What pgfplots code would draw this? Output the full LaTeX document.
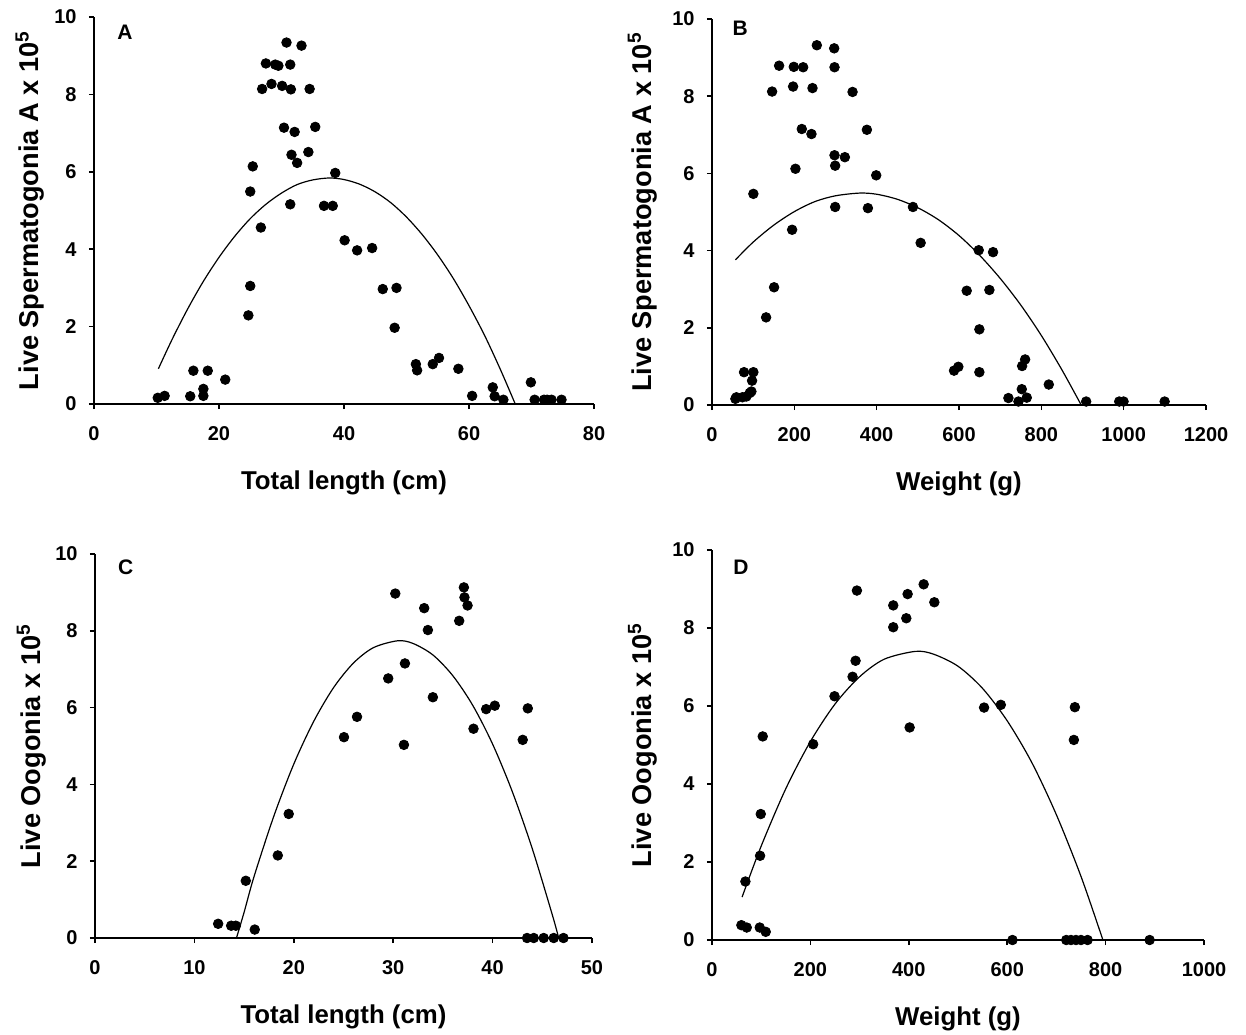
\documentclass[border=0pt]{standalone}
\usepackage{fontspec}
\setmainfont{Liberation Sans}
\usepackage{pgfplots}
\pgfplotsset{compat=1.18}

\pgfplotsset{
  panel/.style={
    scale only axis,
    axis x line*=bottom, axis y line*=left,
    axis line style={line width=0.75pt, -},
    tick align=outside,
    major tick length=2.6pt,
    tick style={line width=0.75pt, black},
    ymin=0, ymax=10, ytick={0,2,...,10},
    clip=false,
    /pgf/number format/assume math mode=true,
    /pgf/number format/1000 sep={},
    ticklabel style={font=\fontsize{10}{12}\selectfont\bfseries},
    xticklabel style={anchor=north, inner sep=0pt, yshift=-8.4pt},
    yticklabel style={anchor=east, inner sep=0pt, xshift=-5.9pt},
    xlabel style={font=\fontsize{12.9}{15}\selectfont\bfseries, at={(axis description cs:0.5,0)}, anchor=base, yshift=-42.5pt},
    ylabel style={font=\fontsize{13.6}{16}\selectfont\bfseries},
  },
  dots/.style={only marks, mark=*, mark size=2.4pt, mark options={fill=black, draw=black}},
  fit/.style={no marks, smooth, black, line width=0.6pt},
}
\newcommand{\panellabel}[3]{\node[font=\fontsize{10.5}{12}\selectfont\bfseries] at (rel axis cs:#1,#2) {#3};}

\begin{document}
\begin{tikzpicture}
\useasboundingbox (0,0) rectangle (623pt,517pt);

% ---------------- Panel A ----------------
\begin{axis}[panel, at={(47pt,315pt)}, anchor=south west, width=250pt, height=193.5pt,
  xmin=0, xmax=80, xtick={0,20,...,80},
  xlabel={Total length (cm)},
  ylabel={Live Spermatogonia A x 10\textsuperscript{5}},
  ylabel style={at={(axis description cs:-0.11,0.5)}, anchor=base, rotate=0}]
\addplot[dots] coordinates {
(10.2,0.16)(11.3,0.21)(15.4,0.20)(15.9,0.86)(17.5,0.39)(17.5,0.21)(18.2,0.86)(21.0,0.63)
(24.7,2.29)(25.0,3.05)(25.0,5.49)(25.4,6.14)(26.7,4.56)(26.9,8.14)(27.5,8.80)(28.4,8.27)
(29.0,8.77)(29.5,8.74)(30.1,8.22)(30.4,7.14)(30.8,9.34)(31.4,8.77)(31.4,5.16)(31.5,8.13)
(31.6,6.44)(32.1,7.03)(32.5,6.23)(33.2,9.26)(34.3,6.51)(34.5,8.14)(35.4,7.16)(36.8,5.12)
(38.2,5.12)(38.6,5.97)(40.1,4.23)(42.1,3.97)(44.5,4.03)(46.2,2.97)(48.4,3.00)(48.1,1.97)
(51.5,1.03)(51.7,0.87)(54.2,1.03)(55.2,1.19)(58.3,0.91)(60.5,0.21)(63.8,0.43)(64.1,0.20)
(65.5,0.11)(69.9,0.56)(70.5,0.11)(72.0,0.11)(72.5,0.11)(73.2,0.11)(74.8,0.11)
};
\addplot[fit] coordinates {
(10.3,0.91)(12.5,1.67)(15,2.46)(17.5,3.17)(20,3.79)(22.5,4.33)(25,4.79)(27.5,5.16)(30,5.45)
(32.5,5.67)(35,5.79)(37.64,5.84)(40,5.80)(42.5,5.68)(45,5.48)(47.5,5.20)(50,4.83)(52.5,4.38)
(55,3.85)(57.5,3.24)(60,2.54)(62.5,1.77)(65,0.90)(67.4,0)
};
\panellabel{0.062}{0.961}{A}
\end{axis}

% ---------------- Panel B ----------------
\begin{axis}[panel, at={(356pt,314.5pt)}, anchor=south west, width=247pt, height=193pt,
  xmin=0, xmax=1200, xtick={0,200,...,1200},
  xlabel={Weight (g)},
  ylabel={Live Spermatogonia A x 10\textsuperscript{5}},
  ylabel style={at={(axis description cs:-0.123,0.5)}, anchor=base, rotate=0}]
\addplot[dots] coordinates {
(56.8,0.16)(59.4,0.20)(73.8,0.20)(77.8,0.85)(83.5,0.22)(91.6,0.31)(95.7,0.35)(97.3,0.63)
(100.5,0.85)(100.5,5.47)(131.4,2.27)(146.0,8.12)(150.8,3.05)(163.0,8.79)(194.6,4.54)(197.0,8.25)
(198.7,8.76)(202.7,6.12)(218.1,7.15)(221.4,8.75)(241.6,7.02)(244.1,8.21)(254.6,9.32)(296.8,9.24)
(297.6,8.75)(297.6,6.47)(299.2,6.20)(299.2,5.13)(322.7,6.42)(341.4,8.11)(376.2,7.13)(378.7,5.10)
(398.9,5.95)(488.1,5.13)(506.8,4.20)(587.9,0.89)(598.4,0.99)(618.7,2.96)(647.9,4.01)(649.5,1.96)
(649.5,0.85)(673.8,2.98)(682.7,3.96)(720.0,0.18)(744.4,0.09)(752.5,0.41)(753.3,1.01)(760.6,1.18)
(764.6,0.19)(818.1,0.53)(908.9,0.09)(989.2,0.09)(999.7,0.09)(1099.5,0.09)
};
\addplot[fit] coordinates {
(56.8,3.76)(100,4.22)(150,4.66)(200,5.01)(250,5.27)(300,5.42)(358.8,5.49)(400,5.46)(450,5.33)
(500,5.11)(550,4.80)(600,4.39)(650,3.88)(700,3.28)(750,2.59)(800,1.80)(850,0.91)(896.8,0)
};
\panellabel{0.057}{0.977}{B}
\end{axis}

% ---------------- Panel C ----------------
\begin{axis}[panel, at={(47.5pt,48pt)}, anchor=south west, width=248.5pt, height=192pt,
  xmin=0, xmax=50, xtick={0,10,...,50},
  xlabel={Total length (cm)},
  ylabel={Live Oogonia x 10\textsuperscript{5}},
  ylabel style={at={(axis description cs:-0.11,0.5)}, anchor=base, rotate=0}]
\addplot[dots] coordinates {
(12.39,0.37)(13.70,0.32)(14.17,0.32)(15.17,1.49)(16.07,0.22)(18.39,2.15)(19.49,3.23)(25.05,5.23)
(26.36,5.76)(29.50,6.76)(30.21,8.97)(31.08,5.03)(31.18,7.15)(33.12,8.59)(33.49,8.02)(33.99,6.27)
(36.64,8.26)(37.11,9.13)(37.17,8.87)(37.48,8.66)(38.08,5.45)(39.35,5.96)(40.22,6.05)(43.03,5.16)
(43.54,5.98)(43.47,0)(44.14,0)(45.14,0)(46.15,0)(47.13,0)
};
\addplot[fit] coordinates {
(14.23,0)(15,0.67)(16,1.60)(18,3.18)(20,4.53)(22,5.64)(24,6.52)(26,7.16)(28,7.56)(30.44,7.74)
(32,7.67)(34,7.37)(36,6.83)(38,6.06)(40,5.05)(42,3.80)(44,2.32)(46,0.61)(46.65,0)
};
\panellabel{0.062}{0.966}{C}
\end{axis}

% ---------------- Panel D ----------------
\begin{axis}[panel, at={(356pt,47pt)}, anchor=south west, width=246pt, height=195pt,
  xmin=0, xmax=1000, xtick={0,200,...,1000},
  xlabel={Weight (g)},
  ylabel={Live Oogonia x 10\textsuperscript{5}},
  ylabel style={at={(axis description cs:-0.123,0.5)}, anchor=base, rotate=0}]
\addplot[dots] coordinates {
(59.7,0.38)(70.6,0.32)(67.9,1.50)(97.0,0.32)(97.7,2.16)(99.1,3.23)(103.1,5.22)(109.2,0.21)
(205.6,5.02)(249.0,6.25)(285.7,6.75)(291.8,7.16)(294.5,8.96)(368.4,8.02)(368.4,8.58)(394.9,8.25)
(397.6,8.87)(401.7,5.45)(430.2,9.12)(451.9,8.66)(553.0,5.96)(587.0,6.03)(610.7,0)(720,0)
(729.6,0)(739.8,0)(750,0)(763.3,0)(735.5,5.13)(737.5,5.97)(889.5,0)
};
\addplot[fit] coordinates {
(61.1,1.10)(100,2.41)(150,3.88)(200,5.09)(250,6.05)(300,6.75)(350,7.20)(413.1,7.40)(450,7.33)
(500,7.02)(550,6.45)(600,5.62)(650,4.55)(700,3.21)(750,1.63)(794.5,0)
};
\panellabel{0.059}{0.956}{D}
\end{axis}
\end{tikzpicture}
\end{document}
